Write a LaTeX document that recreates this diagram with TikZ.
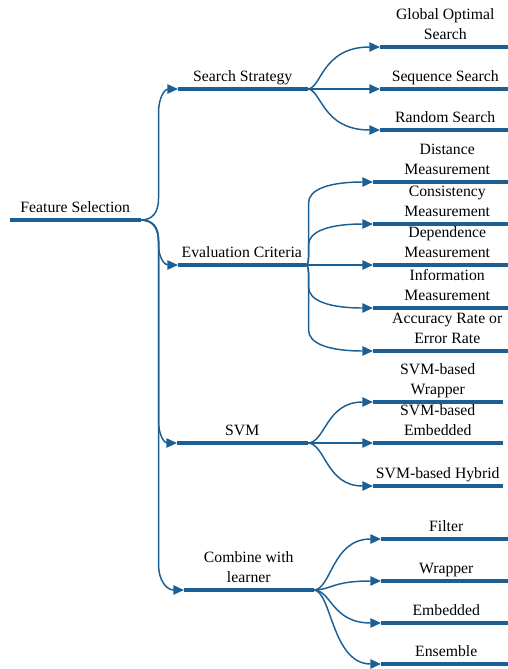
\documentclass[tikz,border=0pt]{standalone}
\usepackage{fontspec}
\setmainfont{Liberation Serif}
\usetikzlibrary{arrows.meta,calc}
\definecolor{mmblue}{RGB}{28,95,148}
\newcommand\lblfont{\fontsize{11.8pt}{15pt}\selectfont}
\tikzset{
  topic/.style={anchor=south west, inner xsep=0pt, inner ysep=5.5pt, text depth=0pt,
    align=center, font=\lblfont, minimum width={#1*0.75pt}},
  bar/.style={draw=mmblue, line width=3pt},
  conn/.style={draw=mmblue, line width=1.1pt, -{Triangle[length=8pt,width=7pt]}},
  % #1 = x offset of the vertical run, #2 = height of first bend, #3 = height of last bend
  bendto/.style n args={3}{to path={let \p1=(\tikztostart), \p2=(\tikztotarget),
      \n1={sign(\y2-\y1)}, \n2={#1*0.75}, \n3={#2*0.75}, \n4={#3*0.75} in
      .. controls ({\x1+0.667*\n2*1pt},\y1) and ({\x1+\n2*1pt},{\y1+(\n1)*\n3*0.333pt})
      .. ({\x1+\n2*1pt},{\y1+(\n1)*\n3*1pt})
      -- ({\x1+\n2*1pt},{\y2-(\n1)*\n4*1pt})
      .. controls ({\x1+\n2*1pt},{\y2-(\n1)*\n4*0.333pt}) and ({\x2-0.667*(\x2-\x1-\n2*1pt)},\y2)
      .. (\tikztotarget)}},
  scurve/.style={to path={let \p1=(\tikztostart), \p2=(\tikztotarget) in
      .. controls ({\x1+#1*0.75pt},\y1) and ({\x1+#1*0.75pt},\y2) .. (\tikztotarget)}},
}
\begin{document}
\begin{tikzpicture}[x=0.75pt,y=-0.75pt]
\useasboundingbox (0,0) rectangle (508,669);
\clip (0,0) rectangle (508,669);

% root
\node[topic=130] (fs) at (10,220) {Feature Selection};
% level 1
\node[topic=129] (ss)  at (178,89)  {Search Strategy};
\node[topic=127] (ec)  at (178,265) {Evaluation Criteria};
\node[topic=130] (svm) at (177,443) {SVM};
\node[topic=129] (cl)  at (184,590) {Combine with\\learner};
% search strategy children
\node[topic=130] (gos) at (380,47)  {Global Optimal\\Search};
\node[topic=130] (sqs) at (380,89)  {Sequence Search};
\node[topic=130] (rs)  at (380,130) {Random Search};
% evaluation criteria children
\node[topic=148] (dm)  at (373,182) {Distance\\Measurement};
\node[topic=148] (cm)  at (373,224) {Consistency\\Measurement};
\node[topic=148] (dep) at (373,265) {Dependence\\Measurement};
\node[topic=148] (im)  at (373,308) {Information\\Measurement};
\node[topic=148] (ar)  at (373,351) {Accuracy Rate or\\Error Rate};
% svm children
\node[topic=129] (sw)  at (373,402) {SVM-based\\Wrapper};
\node[topic=129] (se)  at (373,443) {SVM-based\\Embedded};
\node[topic=129] (sh)  at (373,486) {SVM-based Hybrid};
% combine children
\node[topic=130] (fi)  at (381,539) {Filter};
\node[topic=130] (wr)  at (381,581) {Wrapper};
\node[topic=130] (em)  at (381,623) {Embedded};
\node[topic=130] (en)  at (381,664) {Ensemble};

% connectors
\draw[conn, bendto={18}{22}{24}] (fs.south east) to (ss.south west);
\draw[conn, bendto={18}{20}{20}] (fs.south east) to (ec.south west);
\draw[conn, bendto={18}{22}{22}] (fs.south east) to (svm.south west);
\draw[conn, bendto={18}{22}{26}] (fs.south east) to (cl.south west);

\draw[conn, scurve=14] (ss.south east) to (gos.south west);
\draw[conn] (ss.south east) -- (sqs.south west);
\draw[conn, scurve=14] (ss.south east) to (rs.south west);

\draw[conn, bendto={3}{8}{21}] (ec.south east) to (dm.south west);
\draw[conn, bendto={3}{8}{21}] (ec.south east) to (cm.south west);
\draw[conn] (ec.south east) -- (dep.south west);
\draw[conn, bendto={3}{8}{21}] (ec.south east) to (im.south west);
\draw[conn, bendto={3}{8}{21}] (ec.south east) to (ar.south west);

\draw[conn, scurve=18] (svm.south east) to (sw.south west);
\draw[conn] (svm.south east) -- (se.south west);
\draw[conn, scurve=18] (svm.south east) to (sh.south west);

\draw[conn, scurve=18] (cl.south east) to (fi.south west);
\draw[conn, scurve=18] (cl.south east) to (wr.south west);
\draw[conn, scurve=18] (cl.south east) to (em.south west);
\draw[conn, scurve=18] (cl.south east) to (en.south west);

% bars
\foreach \n in {fs,ss,ec,svm,cl,gos,sqs,rs,dm,cm,dep,im,ar,sw,se,sh,fi,wr,em,en}
  \draw[bar] (\n.south west) -- (\n.south east);
\end{tikzpicture}
\end{document}
